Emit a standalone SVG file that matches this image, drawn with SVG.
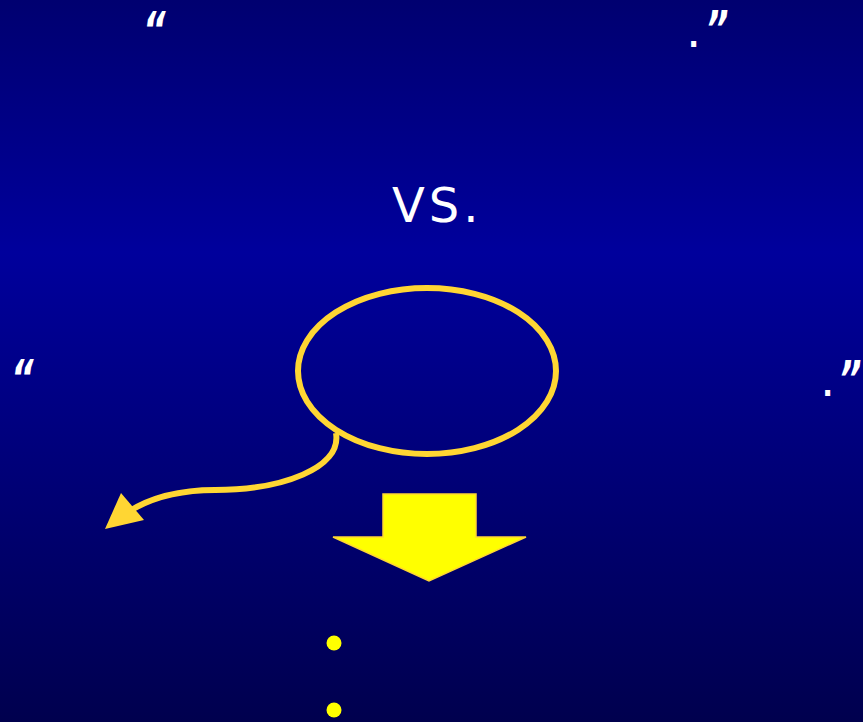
<svg xmlns="http://www.w3.org/2000/svg" width="863" height="722" viewBox="0 0 863 722">
<defs>
<linearGradient id="bg" x1="0" y1="0" x2="0" y2="1">
<stop offset="0" stop-color="#000070"/>
<stop offset="0.35" stop-color="#00009c"/>
<stop offset="1" stop-color="#00004e"/>
</linearGradient>
<style>
.q{font-family:"DejaVu Sans",Verdana,sans-serif;font-style:italic;font-weight:bold;font-size:50px;fill:#fff}
.p{font-family:"DejaVu Sans",Verdana,sans-serif;font-size:48px;fill:#fff}
.t{font-family:"DejaVu Sans",Verdana,sans-serif;font-size:48px;letter-spacing:4px;fill:#fff}
.y{fill:none;stroke:#FFD633;stroke-width:6}
.b{fill:#FFFF00}
</style>
</defs>
<rect width="863" height="722" fill="url(#bg)"/>
<g id="quotes">
<text class="q" transform="translate(143,47) scale(0.7,1)">“</text>
<text class="p" x="686" y="47">.</text>
<text class="q" transform="translate(706,46) scale(0.7,1)">”</text>
<text class="q" transform="translate(11,395) scale(0.7,1)">“</text>
<text class="p" x="820" y="396">.</text>
<text class="q" transform="translate(839,396) scale(0.7,1)">”</text>
</g>
<g id="title"><text class="t" x="392" y="222">VS.</text></g>
<g id="ellipse"><ellipse class="y" cx="427" cy="371" rx="129" ry="83"/></g>
<g id="connectors">
<path class="y" d="M336,433 C342,468 282,490 215,490 C178,490 150,498 128,512"/>
<polygon points="105,529 121,493 144,520" fill="#FFD633"/>
</g>
<g id="blockarrow"><polygon points="383,494 476,494 476,537 526,537 429,581 333,537 383,537" fill="#FFFF00" stroke="#FFD633" stroke-width="1.5"/></g>
<g id="bullets">
<circle class="b" cx="334" cy="643" r="7.5"/>
<circle class="b" cx="334" cy="710" r="7.5"/>
</g>
</svg>
